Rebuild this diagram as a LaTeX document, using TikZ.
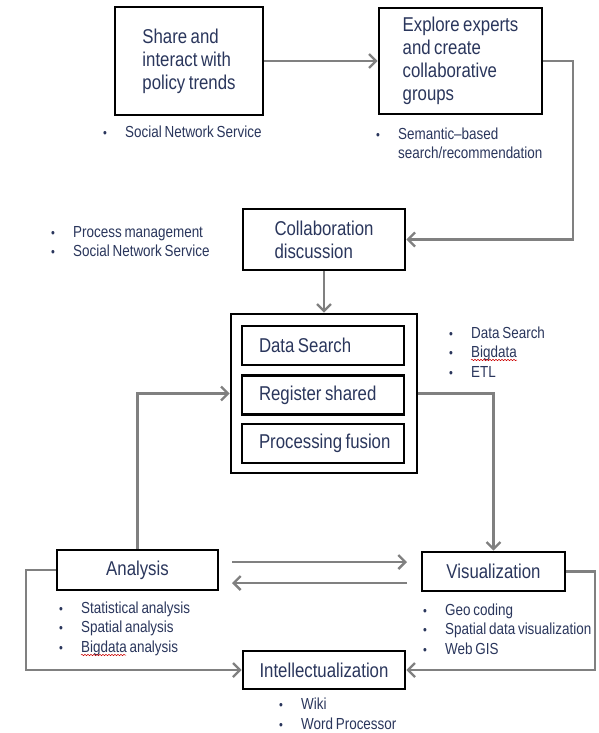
\documentclass[tikz,border=0pt]{standalone}
\usepackage{fontspec}
\setmainfont{Liberation Sans}[FakeStretch=0.84,WordSpace=0.75]
\usetikzlibrary{arrows.meta,decorations.pathmorphing}
\definecolor{txt}{RGB}{42,54,92}
\definecolor{ln}{RGB}{128,128,128}
\newcommand{\bl}[1]{\makebox[22pt][l]{\fontsize{13}{13}\selectfont •}#1}
\newcommand{\nb}[1]{\hspace*{22pt}#1}
\begin{document}
\begin{tikzpicture}[x=1pt,y=-1pt,
  box/.style={draw=black, line width=2.6pt, text=txt, font=\fontsize{20}{23}\selectfont, inner sep=0pt, align=left},
  ibox/.style={box, minimum height=39pt, text width=162pt, inner xsep=0pt, align=flush left},
  lst/.style={anchor=west, inner sep=0pt, align=left, text=txt, font=\fontsize{16}{19.5}\selectfont},
  arr/.style={draw=ln, line width=2.4pt, -{Straight Barb[length=7pt,width=14pt]}},
  wavy/.style={draw=red!80!black, line width=0.5pt, decorate, decoration={snake, amplitude=0.7pt, segment length=3pt}}
]
\useasboundingbox[fill=white] (0,0) rectangle (599,733);

% boxes
\node[box, minimum width=148pt, minimum height=108pt] (b1) at (189,61) {Share and\\interact with\\policy trends};
\node[box, minimum width=163pt, minimum height=106pt] (b2) at (460.5,61) {Explore experts\\and create\\collaborative\\groups};
\node[box, minimum width=162pt, minimum height=61pt] (collab) at (324,239.5) {Collaboration\\discussion};
\node[draw=black, line width=2.6pt, minimum width=186pt, minimum height=159pt, inner sep=0pt] (outer) at (324,393.5) {};
\node[ibox] (ds) at (323,345.5) {\hspace*{17pt}Data Search};
\node[ibox] (reg) at (323,395) {\hspace*{17pt}Register shared};
\node[ibox] (proc) at (323,443.5) {\hspace*{17pt}Processing fusion};
\node[box, minimum width=161pt, minimum height=40pt] (ana) at (137.5,570) {Analysis};
\node[box, minimum width=143pt, minimum height=39pt] (viz) at (493.5,571.5) {Visualization};
\node[box, minimum width=162pt, minimum height=38pt] (intel) at (324,670) {Intellectualization};

% bullet lists
\node[lst] (l1) at (103,132) {\bl{Social Network Service}};
\node[lst] (l2) at (376,143.5) {\bl{Semantic–based}\\\nb{search/recommendation}};
\node[lst] (l3) at (51,241.5) {\bl{Process management}\\\bl{Social Network Service}};
\node[lst] (l4) at (449,352) {\bl{Data Search}\\\bl{Bigdata}\\\bl{ETL}};
\node[lst] (l5) at (59,628.5) {\bl{Statistical analysis}\\\bl{Spatial analysis}\\\bl{Bigdata analysis}};
\node[lst] (l6) at (423,629) {\bl{Geo coding}\\\bl{Spatial data visualization}\\\bl{Web GIS}};
\node[lst] (l7) at (279,714) {\bl{Wiki}\\\bl{Word Processor}};

% spell-check underlines
\draw[wavy] (471,360) -- (517,360);
\draw[wavy] (81,655) -- (126,655);

% helper coordinates
\coordinate (c1) at (573,239.5);
\coordinate (hs1) at (232,562);
\coordinate (he1) at (407,562);
\coordinate (hs2) at (407,583);
\coordinate (he2) at (232,583);
\coordinate (lc) at (26,670);
\coordinate (rc) at (595,670);

% connectors
\draw[arr] (b1) -- (b2);
\draw[arr] (b2.east) -| (c1) -- (collab.east);
\draw[arr] (collab) -- (outer);
\draw[arr] (ana.north) |- (outer.west);
\draw[arr] (outer.east) -| (viz.north);
\draw[arr] (hs1) -- (he1);
\draw[arr] (hs2) -- (he2);
\draw[arr] (ana.west) -| (lc) -- (intel.west);
\draw[arr] (viz.east) -| (rc) -- (intel.east);
\end{tikzpicture}
\end{document}
